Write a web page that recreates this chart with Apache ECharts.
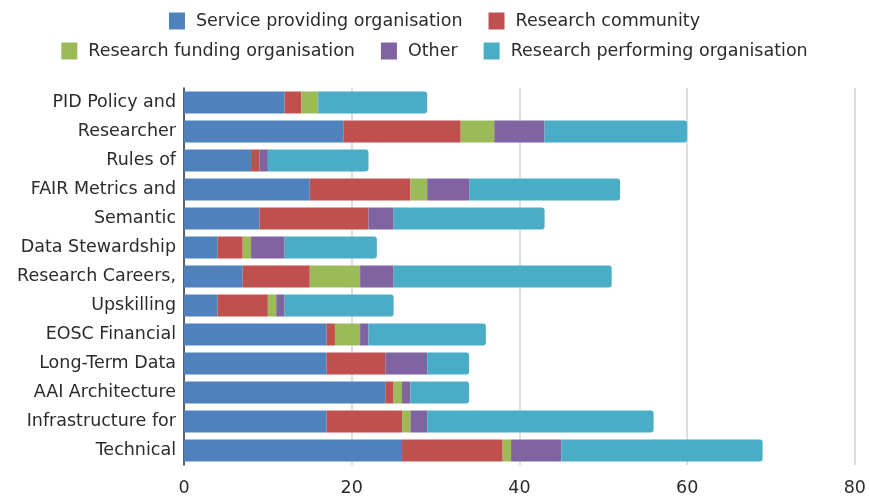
<!DOCTYPE html>
<html>
<head>
<meta charset="utf-8">
<script src="https://cdn.jsdelivr.net/npm/echarts@6/dist/echarts.min.js"></script>
<style>
html,body{margin:0;padding:0;background:#fff;}
#chart{width:869px;height:499px;}
</style>
</head>
<body>
<div id="chart"></div>
<script>
const categories = ["PID Policy and","Researcher","Rules of","FAIR Metrics and","Semantic","Data Stewardship","Research Careers,","Upskilling","EOSC Financial","Long-Term Data","AAI Architecture","Infrastructure for","Technical"];
const serviceProviding = [12,19,8,15,9,4,7,4,17,17,24,17,26];
const researchCommunity = [2,14,1,12,13,3,8,6,1,7,1,9,12];
const researchFunding = [2,4,0,2,0,1,6,1,3,0,1,1,1];
const other = [0,6,1,5,3,4,4,1,1,5,1,2,6];
const researchPerforming = [13,17,12,18,18,11,26,13,14,5,7,27,24];
const xTicks = [0,20,40,60,80];

const FONT = 'DejaVu Sans';
const FS = 17.5;
const chart = echarts.init(document.getElementById('chart'));
const mk = (name, data, color, last) => ({
  name, type: 'bar', stack: 'total', data, barWidth: 22,
  itemStyle: { color, borderRadius: last ? [0,3,3,0] : 0 },
  emphasis: { disabled: true }
});
const legendCommon = {
  icon: 'rect', itemWidth: 16, itemHeight: 17, itemGap: 26, padding: [5,11,5,5],
  textStyle: { fontFamily: FONT, fontSize: FS, color: '#2b2b2b', padding: [0,0,0,6] }
};
chart.setOption({
  animation: false,
  legend: [
    Object.assign({ top: 7, left: 'center', data: ['Service providing organisation','Research community'] }, legendCommon),
    Object.assign({ top: 37, left: 'center', data: ['Research funding organisation','Other','Research performing organisation'] }, legendCommon)
  ],
  grid: { left: 184, right: 12, top: 88, bottom: 34 },
  xAxis: {
    type: 'value', min: xTicks[0], max: xTicks[xTicks.length-1], interval: 20,
    axisLine: { show: false }, axisTick: { show: false },
    splitLine: { lineStyle: { color: '#d4d4d4', width: 1.5 } },
    axisLabel: { fontFamily: FONT, fontSize: FS, color: '#2b2b2b', margin: 14 }
  },
  yAxis: {
    type: 'category', data: categories, inverse: true,
    axisLine: { show: true, lineStyle: { color: '#333', width: 1.5 } },
    axisTick: { show: false },
    axisLabel: { fontFamily: FONT, fontSize: FS, color: '#2b2b2b', margin: 8 }
  },
  series: [
    mk('Service providing organisation', serviceProviding, '#4F81BD'),
    mk('Research community', researchCommunity, '#C0504D'),
    mk('Research funding organisation', researchFunding, '#9BBB59'),
    mk('Other', other, '#8064A2'),
    mk('Research performing organisation', researchPerforming, '#4BACC6', true)
  ]
});
</script>
</body>
</html>
